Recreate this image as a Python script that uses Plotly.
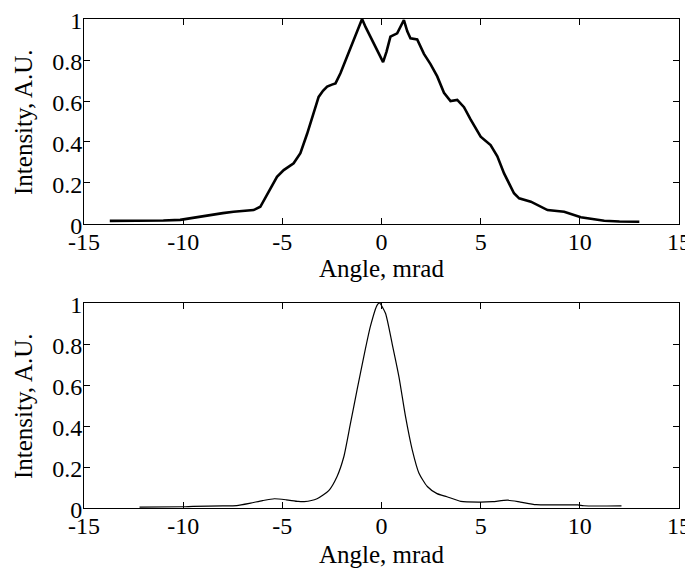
import plotly.graph_objects as go
from plotly.subplots import make_subplots

# Top panel
top_angle = [-13.7, -12.5, -11.0, -10.15, -9.5, -8.8, -8.0, -7.46, -6.9, -6.45, -6.11, -5.7,
             -5.27, -4.93, -4.43, -4.09, -3.75, -3.33, -3.17, -2.95, -2.74, -2.5, -2.32, -2.07,
             -1.73, -1.40, -1.15, -0.98, -0.8, -0.56, -0.22, 0.08, 0.25, 0.45, 0.79, 1.13, 1.3,
             1.46, 1.80, 2.14, 2.47, 2.81, 3.15, 3.48, 3.82, 4.16, 4.49, 5.0, 5.5, 5.84, 6.18,
             6.68, 6.94, 7.53, 8.37, 9.21, 10.05, 11.23, 12.0, 13.0]
top_intensity = [0.015, 0.015, 0.017, 0.02, 0.03, 0.044, 0.053, 0.06, 0.065, 0.068, 0.084, 0.155,
                 0.23, 0.263, 0.296, 0.345, 0.44, 0.57, 0.62, 0.65, 0.67, 0.68, 0.686, 0.735,
                 0.816, 0.90, 0.95, 1.0, 0.96, 0.914, 0.85, 0.79, 0.84, 0.914, 0.93, 0.995, 0.94,
                 0.906, 0.90, 0.83, 0.78, 0.72, 0.64, 0.60, 0.605, 0.57, 0.51, 0.426, 0.385, 0.33,
                 0.247, 0.15, 0.125, 0.109, 0.068, 0.06, 0.033, 0.016, 0.012, 0.011]

# Bottom panel
bot_angle = [-12.2, -10.0, -9.5, -8.0, -7.3, -6.6, -6.0, -5.4, -4.8, -4.2, -3.9, -3.25, -2.66,
             -2.24, -1.9, -1.57, -1.23, -0.89, -0.56, -0.22, -0.1, 0.2, 0.54, 0.88, 1.21, 1.55,
             1.89, 2.31, 2.8, 3.3, 4.0, 5.0, 5.6, 6.35, 7.0, 7.8, 9.9, 10.2, 12.1]
bot_intensity = [0.004, 0.006, 0.008, 0.01, 0.012, 0.024, 0.036, 0.045, 0.04, 0.032, 0.031, 0.045,
                 0.085, 0.154, 0.25, 0.41, 0.577, 0.74, 0.886, 0.99, 1.0, 0.95, 0.80, 0.64, 0.447,
                 0.284, 0.17, 0.105, 0.07, 0.055, 0.032, 0.029, 0.031, 0.038, 0.029, 0.016, 0.015,
                 0.011, 0.01]

x_ticks = [-15, -10, -5, 0, 5, 10, 15]
x_tick_text = ["-15", "-10", "-5", "0", "5", "10", "15"]
y_ticks = [0, 0.2, 0.4, 0.6, 0.8, 1]
y_tick_text = ["0", "0.2", "0.4", "0.6", "0.8", "1"]
x_title = "Angle, mrad"
y_title = "Intensity, A.U."

fig = make_subplots(rows=2, cols=1)
fig.add_trace(go.Scatter(x=top_angle, y=top_intensity, mode="lines",
                         line=dict(color="black", width=2.6), showlegend=False), row=1, col=1)
fig.add_trace(go.Scatter(x=bot_angle, y=bot_intensity, mode="lines",
                         line=dict(color="black", width=1.2, shape="spline", smoothing=0.6),
                         showlegend=False), row=2, col=1)

family = "Liberation Serif, Times New Roman, serif"
tick_font = dict(family=family, size=24, color="black")
title_font = dict(family=family, size=25, color="black")
axis_common = dict(showline=True, linecolor="black", linewidth=1, mirror="allticks",
                   ticks="inside", ticklen=6, tickcolor="black", showgrid=False, zeroline=False,
                   tickfont=tick_font, automargin=False, ticklabelstandoff=-4,
                   ticklabeloverflow="allow")

fig.update_xaxes(range=[-15, 15], tickvals=x_ticks, ticktext=x_tick_text, **axis_common)
fig.update_yaxes(range=[0, 1], tickvals=y_ticks, ticktext=y_tick_text, ticklabelshift=2,
                 **axis_common)

# axis titles placed as annotations (paper coordinates)
for ty in (0.4902, -0.0961):
    fig.add_annotation(text=x_title, xref="paper", yref="paper", x=0.5, y=ty,
                       xanchor="center", yanchor="middle", showarrow=False, font=title_font)
for ty in (0.7904, 0.2096):
    fig.add_annotation(text=y_title, xref="paper", yref="paper", x=-0.1017, y=ty,
                       xanchor="center", yanchor="middle", textangle=-90, showarrow=False,
                       font=title_font)

fig.update_layout(
    width=685, height=561,
    margin=dict(l=76, r=14, t=11, b=61),
    paper_bgcolor="white", plot_bgcolor="white",
    font=tick_font,
    xaxis=dict(domain=[0, 1]), yaxis=dict(domain=[0.5808, 1.0]),
    xaxis2=dict(domain=[0, 1]), yaxis2=dict(domain=[0.0, 0.4192]),
)

fig.write_html("out.html")
